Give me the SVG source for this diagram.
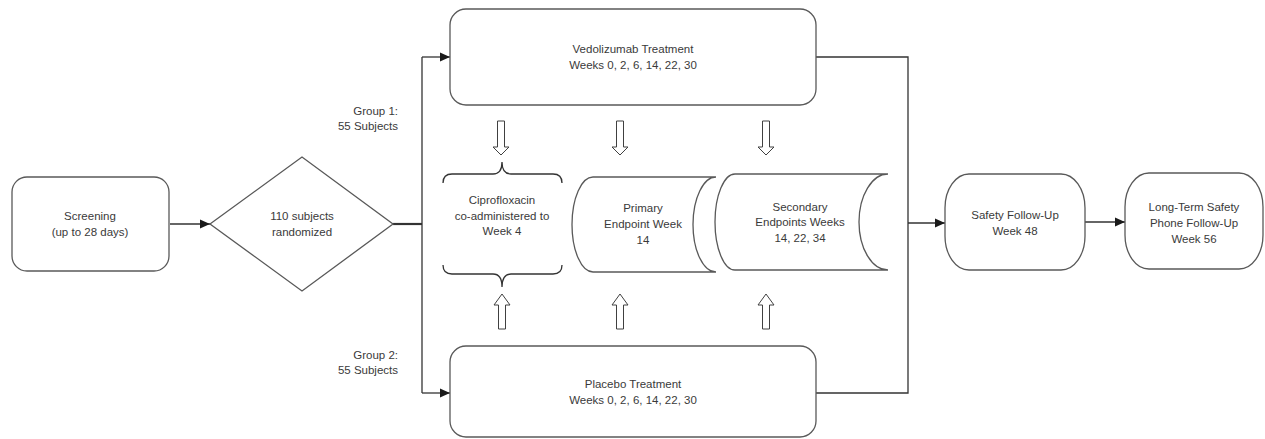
<svg xmlns="http://www.w3.org/2000/svg" width="1265" height="439" viewBox="0 0 1265 439">
<defs>
<marker id="ah" viewBox="0 0 10 10" refX="10" refY="5" markerWidth="10" markerHeight="10" markerUnits="userSpaceOnUse" orient="auto">
<path d="M0,0.5 L10,5 L0,9.5 Z" fill="#1a1a1a"/>
</marker>
<style>
.box{fill:#fff;stroke:#595959;stroke-width:1.3}
.ln{fill:none;stroke:#333;stroke-width:1.3}
.thick{fill:none;stroke:#333;stroke-width:2.2}
.ha{fill:#fff;stroke:#404040;stroke-width:1}
text{font-family:"Liberation Sans",Arial,sans-serif;font-size:11.5px;fill:#3a3a3a;text-anchor:middle}
.lbl{text-anchor:end}
</style>
</defs>
<rect width="1265" height="439" fill="#fff"/>
<g id="connectors">
<line class="ln" x1="170" y1="224" x2="210" y2="224" marker-end="url(#ah)"/>
<line class="thick" x1="393" y1="224" x2="422" y2="224"/>
<polyline class="ln" points="422,57 422,393"/>
<line class="ln" x1="422" y1="57" x2="450" y2="57" marker-end="url(#ah)"/>
<line class="ln" x1="422" y1="393" x2="450" y2="393" marker-end="url(#ah)"/>
<polyline class="ln" points="816,57 908,57 908,393 816,393"/>
<line class="ln" x1="908" y1="223" x2="945" y2="223" marker-end="url(#ah)"/>
<line class="ln" x1="1085" y1="222" x2="1125" y2="222" marker-end="url(#ah)"/>
<path class="ha" d="M497.5,121 H504.5 V147 H509 L501,155 L493,147 H497.5 Z"/>
<path class="ha" d="M616.5,121 H623.5 V147 H628 L620,155 L612,147 H616.5 Z"/>
<path class="ha" d="M762.5,121 H769.5 V147 H774 L766,155 L758,147 H762.5 Z"/>
<path class="ha" d="M498.5,329 H505.5 V305 H510 L502,294 L494,305 H498.5 Z"/>
<path class="ha" d="M616.5,329 H623.5 V305 H628 L620,294 L612,305 H616.5 Z"/>
<path class="ha" d="M762.5,329 H769.5 V305 H774 L766,294 L758,305 H762.5 Z"/>
</g>
<g id="screening">
<rect class="box" x="12" y="177" width="157" height="94" rx="15"/>
<text x="90" y="220">Screening</text>
<text x="90" y="236">(up to 28 days)</text>
</g>
<g id="randomized">
<polygon class="box" points="210,224 302,157 393,224 302,291"/>
<text x="302" y="220">110 subjects</text>
<text x="302" y="236">randomized</text>
</g>
<g id="group1">
<text class="lbl" x="398" y="115">Group 1:</text>
<text class="lbl" x="398" y="130">55 Subjects</text>
</g>
<g id="group2">
<text class="lbl" x="398" y="359">Group 2:</text>
<text class="lbl" x="398" y="374">55 Subjects</text>
</g>
<g id="vedolizumab">
<rect class="box" x="450" y="9" width="366" height="96" rx="16"/>
<text x="633" y="53">Vedolizumab Treatment</text>
<text x="633" y="69">Weeks 0, 2, 6, 14, 22, 30</text>
</g>
<g id="placebo">
<rect class="box" x="450" y="346" width="366" height="91" rx="16"/>
<text x="633" y="388">Placebo Treatment</text>
<text x="633" y="404">Weeks 0, 2, 6, 14, 22, 30</text>
</g>
<g id="ciprofloxacin">
<path class="ln" d="M443,183 Q443,174 452,174 H493 Q502,174 502,162 Q502,174 511,174 H553 Q562,174 562,183"/>
<path class="ln" d="M443,265 Q443,274 452,274 H493 Q502,274 502,287 Q502,274 511,274 H553 Q562,274 562,265"/>
<text x="502" y="204">Ciprofloxacin</text>
<text x="502" y="220">co-administered to</text>
<text x="502" y="235">Week 4</text>
</g>
<g id="primary">
<path class="box" d="M593,177 H716 A23,47.5 0 0 0 716,272 H593 A21,47.5 0 0 1 593,177 Z"/>
<text x="643" y="212">Primary</text>
<text x="643" y="228">Endpoint Week</text>
<text x="643" y="244">14</text>
</g>
<g id="secondary">
<path class="box" d="M735,174 H888 A29,48 0 0 0 888,270 H735 A20,48 0 0 1 735,174 Z"/>
<text x="800" y="211">Secondary</text>
<text x="800" y="226">Endpoints Weeks</text>
<text x="800" y="242">14, 22, 34</text>
</g>
<g id="safety">
<rect class="box" x="945" y="174" width="140" height="96" rx="24" ry="34"/>
<text x="1015" y="219">Safety Follow-Up</text>
<text x="1015" y="235">Week 48</text>
</g>
<g id="longterm">
<rect class="box" x="1125" y="173" width="138" height="96" rx="24" ry="34"/>
<text x="1194" y="211">Long-Term Safety</text>
<text x="1194" y="227">Phone Follow-Up</text>
<text x="1194" y="243">Week 56</text>
</g>
</svg>
